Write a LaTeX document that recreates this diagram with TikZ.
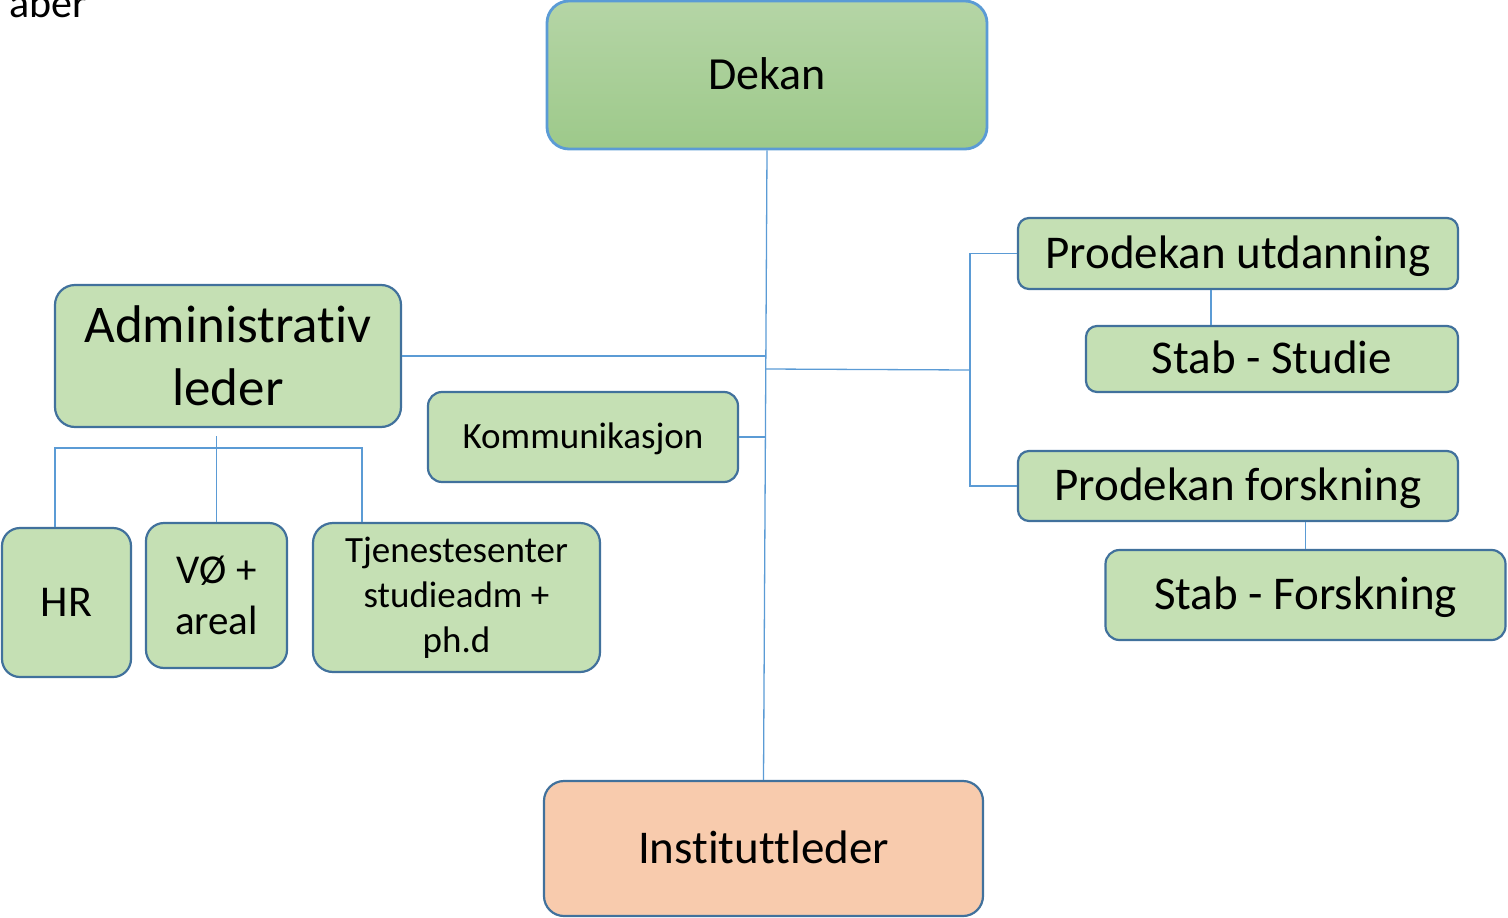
\documentclass[tikz,border=0pt]{standalone}
\usepackage{fontspec}
\setmainfont{Carlito}[Ligatures=NoCommon]
\definecolor{boxfill}{HTML}{C5E0B4}
\definecolor{boxline}{HTML}{41719C}
\definecolor{dekline}{HTML}{5B9BD5}
\definecolor{connline}{HTML}{5B9BD5}
\definecolor{dekTop}{HTML}{B5D5A6}
\definecolor{dekBot}{HTML}{9DC98A}
\definecolor{instfill}{HTML}{F8CBAD}
\begin{document}
\begin{tikzpicture}[x=1pt,y=-1pt,
  box/.style={draw=boxline, line width=2.2pt, fill=boxfill, rounded corners=16pt, inner sep=0pt, align=center},
  conn/.style={draw=connline, line width=1.3pt},
  one/.style={text height=#1, text depth=0pt}]
\useasboundingbox (0,0) rectangle (1508,918);
% header fragment
\node[anchor=base east, inner sep=0pt, font=\fontsize{42}{50}\selectfont] (hdr) at (87,17) {aber};
% nodes
\node[box, top color=dekTop, bottom color=dekBot, draw=dekline, line width=2.8pt, rounded corners=22pt,
      minimum width=440pt, minimum height=148pt, one=29pt, font=\fontsize{46}{55}\selectfont] (dekan) at (767,75) {Dekan};
\node[box, minimum width=346pt, minimum height=142pt, rounded corners=20pt, font=\fontsize{53}{63}\selectfont] (adm) at (228,356) {Administrativ\\leder};
\node[box, minimum width=310pt, minimum height=90pt, rounded corners=14pt, one=23.4pt, font=\fontsize{37}{44}\selectfont] (kom) at (583,437) {Kommunikasjon};
\node[box, minimum width=129pt, minimum height=149pt, rounded corners=18pt, one=27.8pt, font=\fontsize{44}{53}\selectfont] (hr) at (66.5,602.5) {HR};
\node[box, minimum width=141pt, minimum height=145pt, rounded corners=18pt, font=\fontsize{41}{51}\selectfont] (vo) at (216.5,595.5) {VØ +\\areal};
\node[box, minimum width=287pt, minimum height=149pt, rounded corners=20pt, font=\fontsize{37}{45}\selectfont, text depth=6pt] (tj) at (456.5,597.5) {Tjenestesenter\\studieadm +\\ph.d};
\node[box, minimum width=440pt, minimum height=71pt, rounded corners=11pt, one=29.7pt, font=\fontsize{47}{56}\selectfont] (proU) at (1238,253.5) {Prodekan utdanning};
\node[box, minimum width=372pt, minimum height=66pt, rounded corners=11pt, one=29.7pt, font=\fontsize{47}{56}\selectfont] (stabS) at (1272,359) {Stab - Studie};
\node[box, minimum width=440pt, minimum height=70pt, rounded corners=11pt, one=29.7pt, font=\fontsize{47}{56}\selectfont] (proF) at (1238,486) {Prodekan forskning};
\node[box, minimum width=400pt, minimum height=90pt, rounded corners=14pt, one=29.7pt, font=\fontsize{47}{56}\selectfont] (stabF) at (1305.5,595) {Stab - Forskning};
\node[box, fill=instfill, minimum width=439pt, minimum height=135pt, rounded corners=20pt, one=29.7pt, font=\fontsize{47}{56}\selectfont] (inst) at (763.5,848.5) {Instituttleder};
% trunk points
\coordinate (t1) at (766,356);
\coordinate (t2) at (766,369);
\coordinate (t3) at (765.5,437);
\coordinate (rb) at (970,370);
\coordinate (ab) at (216.5,436);
\coordinate (bar) at (216.5,448);
% connectors
\draw[conn] (dekan.south) -- (inst.north);
\draw[conn] (adm.east) -- (adm.east -| t1);
\draw[conn] (kom.east) -- (kom.east -| t3);
\draw[conn] (t2) -- (rb);
\draw[conn] (proU.west) -- (proU.west -| rb) -- (proF.west -| rb) -- (proF.west);
\draw[conn] ([xshift=-27pt]proU.south) -- ([xshift=-27pt]proU.south |- stabS.north);
\draw[conn] (stabF.north) -- (stabF.north |- proF.south);
\draw[conn] (ab) -- (vo.north);
\draw[conn] ([xshift=-11.5pt]hr.north) -- ([xshift=-11.5pt]hr.north |- bar) -- ([xshift=-94.5pt]tj.north |- bar) -- ([xshift=-94.5pt]tj.north);
\end{tikzpicture}
\end{document}
